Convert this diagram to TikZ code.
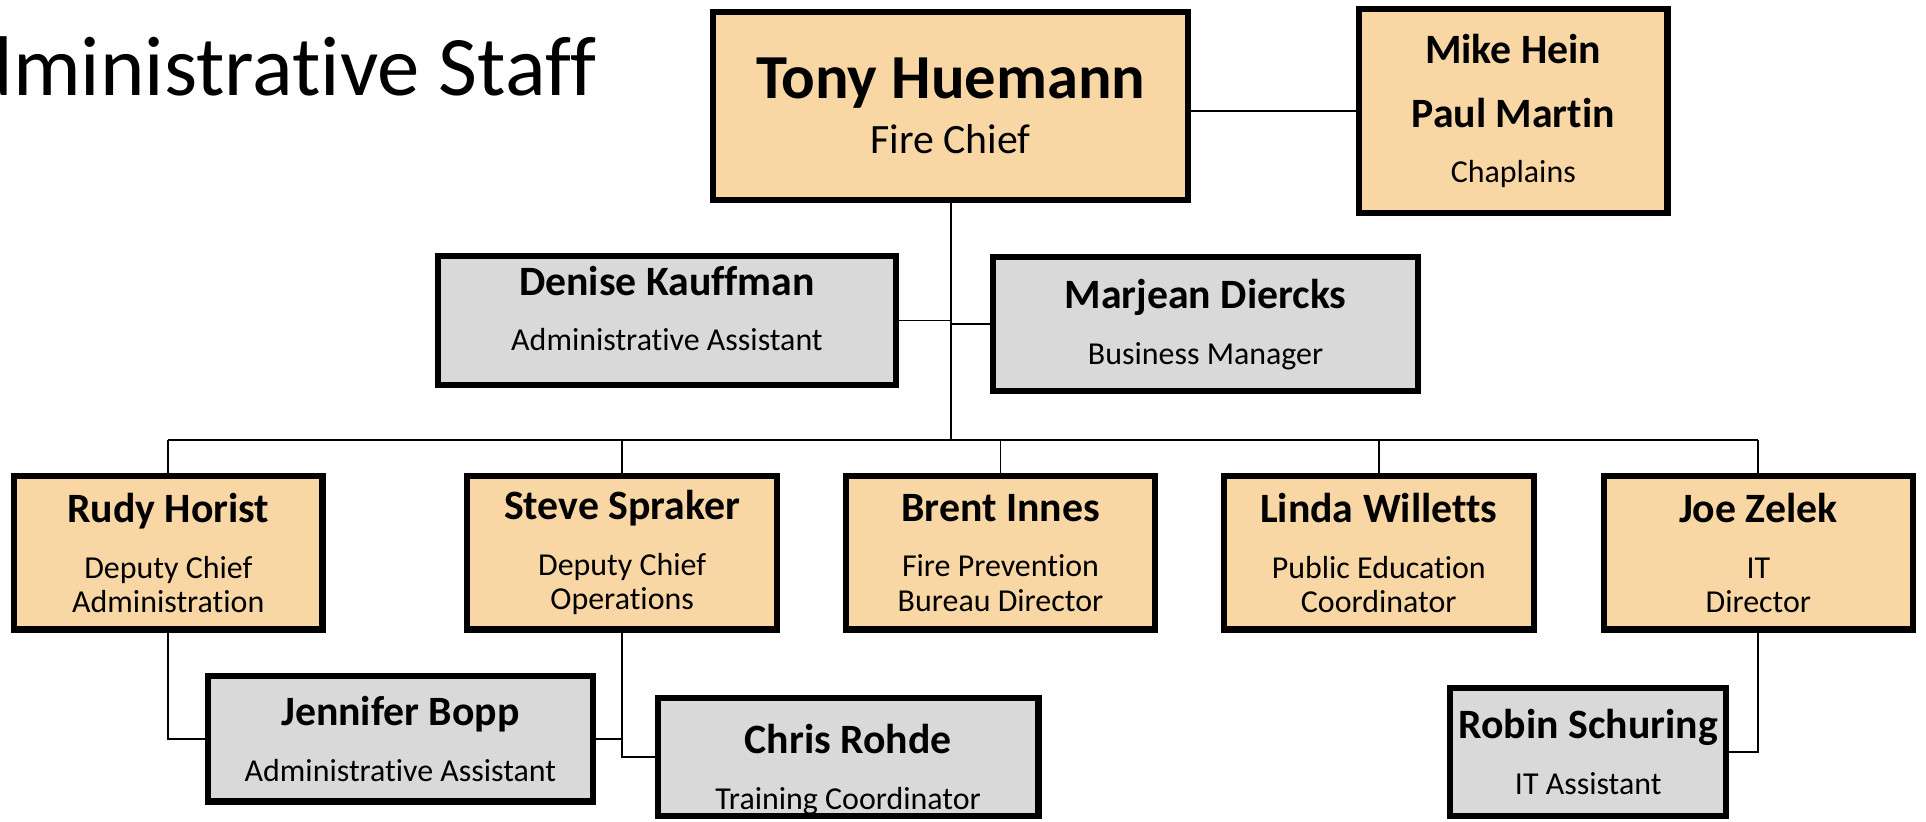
\documentclass[tikz,border=0pt]{standalone}
\usepackage{fontspec}
\setmainfont{Carlito}[Ligatures=CommonOff]
\usepackage{tikz}
\usetikzlibrary{calc}
\usetikzlibrary{positioning}
\usepackage{xcolor}

\definecolor{boxgold}{RGB}{248,215,165}
\definecolor{boxgray}{RGB}{217,217,217}
\newcommand{\nm}{\fontsize{34}{40}\selectfont\bfseries}
\tikzset{
	staffbox/.style={draw=black,line width=5pt,inner sep=0pt,align=center,font=\fontsize{26}{28}\selectfont},
	goldbox/.style={staffbox,fill=boxgold},
	graybox/.style={staffbox,fill=boxgray},
	conn/.style={line width=1.4pt,black}
}

\begin{document}
\begin{tikzpicture}[x=1pt,y=-1pt]
	\useasboundingbox (0,0) rectangle (1568,668.4);
	\node[anchor=base east,font=\fontsize{69}{74}\selectfont] (title) at (489,78) {Administrative Staff};
	% top
	\node[goldbox,minimum width=387pt,minimum height=153pt,font=\fontsize{34}{41}\selectfont] (chief) at (774,86) {{\fontsize{51}{56}\selectfont\bfseries Tony Huemann}\\[4pt]Fire Chief};
	\node[goldbox,minimum width=251pt,minimum height=166pt] (chap) at (1232,90.5) {{\nm Mike Hein}\\[24pt]{\nm Paul Martin}\\[17pt]Chaplains};
	\node[graybox,minimum width=373pt,minimum height=105pt,text depth=20pt] (denise) at (543,261) {{\nm Denise Kauffman}\\[17.5pt]Administrative Assistant};
	\node[graybox,minimum width=346pt,minimum height=109pt] (marjean) at (981.5,264) {{\nm Marjean Diercks}\\[17.5pt]Business Manager};
	\coordinate (bus) at (774,358);
	% row of five
	\node[goldbox,minimum width=251pt,minimum height=125pt] (rudy) at (137,450) {{\nm Rudy Horist}\\[17.5pt]Deputy Chief\\Administration};
	\node[goldbox,minimum width=252pt,minimum height=125pt] (steve) at (506.5,450) {{\nm Steve Spraker}\\[17.5pt]Deputy Chief\\Operations};
	\node[goldbox,minimum width=252pt,minimum height=125pt] (brent) at (814.5,450) {{\nm Brent Innes}\\[17.5pt]Fire Prevention\\Bureau Director};
	\node[goldbox,minimum width=252pt,minimum height=125pt] (linda) at (1122.5,450) {{\nm Linda Willetts}\\[17.5pt]Public Education\\Coordinator};
	\node[goldbox,minimum width=252pt,minimum height=125pt] (joe) at (1431.5,450) {{\nm Joe Zelek}\\[17.5pt]IT\\Director};
	% assistants
	\node[graybox,minimum width=313pt,minimum height=102pt] (jennifer) at (326,601.5) {{\nm Jennifer Bopp}\\[17.5pt]Administrative Assistant};
	\node[graybox,minimum width=310pt,minimum height=96pt,text height=89pt] (chris) at (690.5,616.5) {{\nm Chris Rohde}\\[17.5pt]Training Coordinator};
	\node[graybox,minimum width=225pt,minimum height=104pt] (robin) at (1293,612) {{\nm Robin Schuring}\\[17.5pt]IT Assistant};
	% lines
	\draw[conn] (chap.west -| chief.east) -- (chap.west);
	\draw[conn] (chief.south) -- (bus);
	\draw[conn] (denise.east) -- (denise.east -| bus);
	\draw[conn] (marjean.west) -- (marjean.west -| bus);
	\draw[conn] (rudy.north |- bus) -- (joe.north |- bus);
	\draw[conn] (rudy.north) -- (rudy.north |- bus);
	\draw[conn] (steve.north) -- (steve.north |- bus);
	\draw[conn] (brent.north) -- (brent.north |- bus);
	\draw[conn] (linda.north) -- (linda.north |- bus);
	\draw[conn] (joe.north) -- (joe.north |- bus);
	\draw[conn] (rudy.south) |- (jennifer.west);
	\draw[conn] (jennifer.east) -- (jennifer.east -| steve.south);
	\draw[conn] (steve.south) |- (chris.west);
	\draw[conn] (joe.south) |- (robin.east);
\end{tikzpicture}
\end{document}
